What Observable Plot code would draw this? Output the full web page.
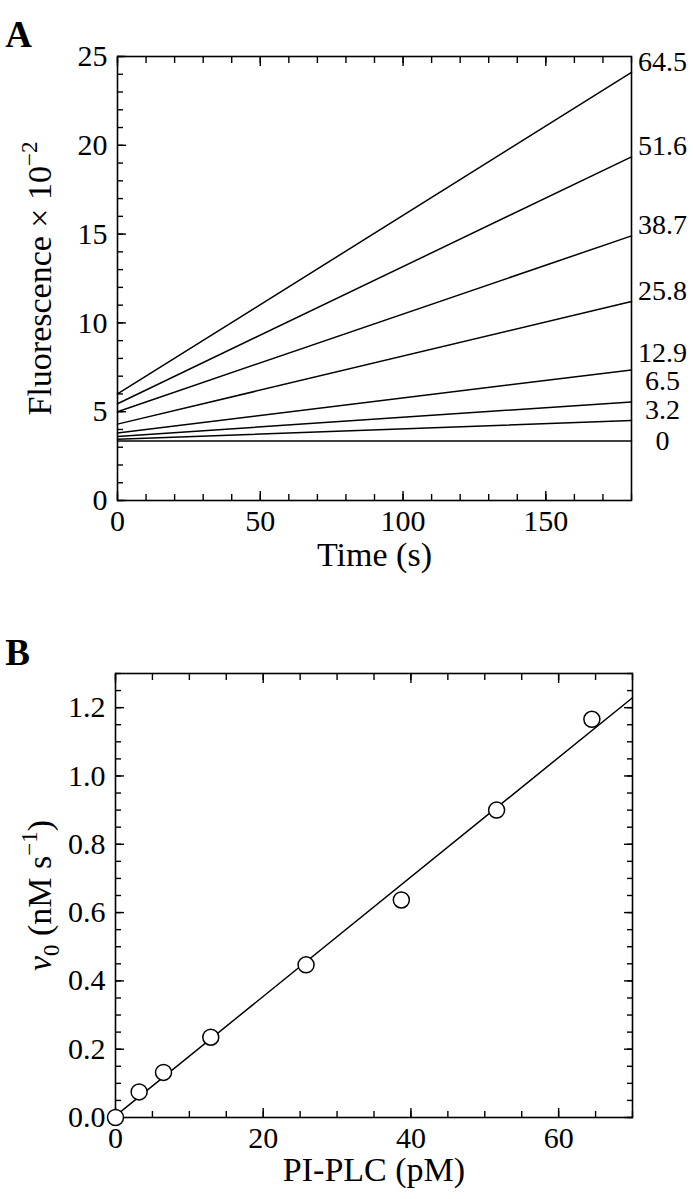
<!DOCTYPE html>
<html><head><meta charset="utf-8">
<script src="https://cdn.jsdelivr.net/npm/d3@7"></script>
<script src="https://cdn.jsdelivr.net/npm/@observablehq/plot@0.6"></script>
<style>
body{margin:0;background:#fff;}
#chart svg{display:block;}
</style>
</head><body><div id="chart"></div>
<script>
// ---------- Data ----------
// Panel A: fluorescence traces (×10^-2) for each PI-PLC concentration (pM)
const concentrations = [0, 3.2, 6.5, 12.9, 25.8, 38.7, 51.6, 64.5];
const fluorAtStart   = [3.35, 3.45, 3.6, 3.8, 4.3, 5.0, 5.45, 6.0];
const fluorAtEnd     = [3.35, 4.5, 5.55, 7.35, 11.2, 14.9, 19.35, 24.1];
const timeSpan       = [0, 180];
const timeTicks      = [0, 50, 100, 150];
const fluorTicks     = [0, 5, 10, 15, 20, 25];

// Panel B: initial velocity v0 (nM s^-1) vs PI-PLC (pM)
const plcConc = [0, 3.2, 6.5, 12.9, 25.8, 38.7, 51.6, 64.5];
const v0      = [0, 0.075, 0.132, 0.235, 0.447, 0.637, 0.90, 1.166];
const plcTicks = [0, 20, 40, 60];
const v0Ticks  = [0, 0.2, 0.4, 0.6, 0.8, 1.0, 1.2];

// ---------- Helpers ----------
const W = 693;
const FONT = "'Liberation Serif', 'Times New Roman', serif";
const TICK_FS = 30, TITLE_FS = 34;
function steps(a, b, s) { const o = []; for (let v = a; v <= b + 1e-9; v += s) o.push(+v.toFixed(6)); return o; }

function boxTicks(minorX, majorX, minorY, majorY, sides) {
  const m = [];
  const sw = 1.4;
  for (const side of sides) {
    if (side === "left" || side === "right") {
      m.push(Plot.axisY(minorY, {anchor: side, tickSize: -6, text: null, strokeWidth: sw, label: null}));
      m.push(Plot.axisY(majorY, {anchor: side, tickSize: -9, text: null, strokeWidth: sw, label: null}));
    } else {
      m.push(Plot.axisX(minorX, {anchor: side, tickSize: -6, text: null, strokeWidth: sw, label: null}));
      m.push(Plot.axisX(majorX, {anchor: side, tickSize: -9, text: null, strokeWidth: sw, label: null}));
    }
  }
  return m;
}

function setTspans(svg, placeholder, parts) {
  const t = [...svg.querySelectorAll("text")].find(el => el.textContent === placeholder);
  if (!t) return;
  t.textContent = "";
  for (const p of parts) {
    const ts = document.createElementNS("http://www.w3.org/2000/svg", "tspan");
    ts.textContent = p.text;
    if (p.dy) ts.setAttribute("dy", p.dy);
    if (p.size) ts.setAttribute("font-size", p.size);
    if (p.italic) ts.setAttribute("font-style", "italic");
    t.appendChild(ts);
  }
}

// ---------- Panel A ----------
const seriesA = concentrations.map((c, i) => ({c, start: fluorAtStart[i], end: fluorAtEnd[i]}));
const linesA = seriesA.flatMap(s => [
  {c: s.c, t: timeSpan[0], f: s.start},
  {c: s.c, t: timeSpan[1], f: s.end}
]);
// stack the right-hand labels so they do not collide
{
  const sorted = [...seriesA].sort((a, b) => a.end - b.end);
  let prev = -Infinity;
  sorted.forEach((s, k) => {
    const want = k === 0 ? s.end : s.end + 0.6;
    s.labelY = Math.max(want, prev + 1.6);
    prev = s.labelY;
  });
}

const chartA = Plot.plot({
  width: W, height: 600,
  marginTop: 56, marginBottom: 100, marginLeft: 117, marginRight: 62,
  style: {fontFamily: FONT, fontSize: TICK_FS + "px", color: "black", background: "white"},
  x: {domain: timeSpan, axis: null, label: null},
  y: {domain: [0, 25], axis: null, label: null},
  marks: [
    Plot.line(linesA, {x: "t", y: "f", z: "c", stroke: "black", strokeWidth: 1.5}),
    Plot.frame({stroke: "black", strokeWidth: 1.6}),
    ...boxTicks(steps(0, 180, 10), timeTicks, steps(0, 25, 1), fluorTicks, ["left", "bottom", "top"]),
    Plot.axisY(fluorTicks, {anchor: "left", tickSize: 0, tickPadding: 10, label: null, fontSize: TICK_FS}),
    Plot.axisX(timeTicks, {anchor: "bottom", tickSize: 0, tickPadding: 9, label: null, fontSize: TICK_FS}),
    Plot.text(seriesA, {x: () => timeSpan[1], y: "labelY", text: d => String(d.c), dx: 31, textAnchor: "middle", fontSize: 28}),
    Plot.text(["Time (s)"], {text: d => d, frameAnchor: "bottom", dy: 65, textAnchor: "middle", fontSize: TITLE_FS}),
    Plot.text(["@ytitleA"], {text: d => d, frameAnchor: "left", dx: -77, rotate: -90, textAnchor: "middle", fontSize: TITLE_FS}),
    Plot.text(["A"], {text: d => d, frameAnchor: "top-left", dx: -99, dy: -36, textAnchor: "middle", fontWeight: "bold", fontSize: 37})
  ]
});
setTspans(chartA, "@ytitleA", [
  {text: "Fluorescence × 10"},
  {text: "−2", dy: "-14", size: 23}
]);

// ---------- Panel B ----------
const points = plcConc.map((c, i) => ({c, v: v0[i]}));
const xDomB = [0, 70];
const [slope, intercept] = (() => {
  const mx = d3.mean(points, d => d.c), my = d3.mean(points, d => d.v);
  const sxy = d3.sum(points, d => (d.c - mx) * (d.v - my));
  const sxx = d3.sum(points, d => (d.c - mx) ** 2);
  const b = sxy / sxx;
  return [b, my - b * mx];
})();
const fitLine = xDomB.map(x => ({x, y: intercept + slope * x}));

const chartB = Plot.plot({
  width: W, height: 599,
  marginTop: 73, marginBottom: 82, marginLeft: 115, marginRight: 61,
  style: {fontFamily: FONT, fontSize: TICK_FS + "px", color: "black", background: "white"},
  x: {domain: xDomB, axis: null, label: null},
  y: {domain: [0, 1.3], axis: null, label: null},
  marks: [
    Plot.line(fitLine, {x: "x", y: "y", stroke: "black", strokeWidth: 1.5}),
    Plot.frame({stroke: "black", strokeWidth: 1.6}),
    ...boxTicks(steps(0, 70, 5), plcTicks, steps(0, 1.3, 0.05), v0Ticks, ["left", "right", "bottom", "top"]),
    Plot.axisY(v0Ticks, {anchor: "left", tickSize: 0, tickPadding: 10, tickFormat: d3.format(".1f"), label: null, fontSize: TICK_FS}),
    Plot.axisX(plcTicks, {anchor: "bottom", tickSize: 0, tickPadding: 9, label: null, fontSize: TICK_FS}),
    Plot.dot(points, {x: "c", y: "v", r: 8, fill: "white", stroke: "black", strokeWidth: 1.5}),
    Plot.text(["PI-PLC (pM)"], {text: d => d, frameAnchor: "bottom", dy: 63, textAnchor: "middle", fontSize: TITLE_FS}),
    Plot.text(["@ytitleB"], {text: d => d, frameAnchor: "left", dx: -75, rotate: -90, textAnchor: "middle", fontSize: TITLE_FS}),
    Plot.text(["B"], {text: d => d, frameAnchor: "top-left", dx: -98, dy: -35, textAnchor: "middle", fontWeight: "bold", fontSize: 37})
  ]
});
setTspans(chartB, "@ytitleB", [
  {text: "v", italic: true},
  {text: "0", dy: "8", size: 23},
  {text: " (nM s", dy: "-8"},
  {text: "−1", dy: "-14", size: 23},
  {text: ")", dy: "14"}
]);

const root = document.getElementById("chart");
root.appendChild(chartA);
root.appendChild(chartB);
</script>
</body></html>
